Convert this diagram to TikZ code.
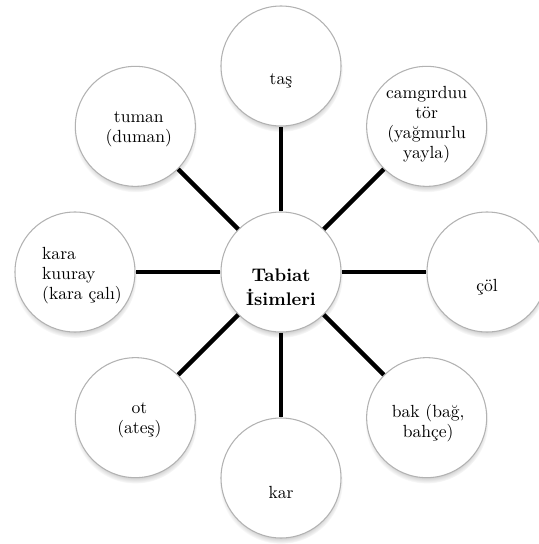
\documentclass[tikz,border=0pt]{standalone}
\usepackage{fontspec}
\usepackage{tikz}
\usetikzlibrary{positioning, shadows, calc}

\begin{document}
\begin{tikzpicture}[
    bubble/.style={circle, draw=gray!60, line width=0.6pt, fill=white, minimum size=2.4cm, inner sep=0pt,
        circular drop shadow={shadow scale=1.03, shadow xshift=0pt, shadow yshift=-0.8mm, opacity=0.55}},
    bubbletext/.style={align=center, inner sep=0pt, font=\rmfamily\fontsize{10}{11.4}\selectfont},
    hubtext/.style={align=center, inner sep=0pt, font=\rmfamily\fontsize{10.4}{13.6}\selectfont\bfseries},
    spoke/.style={line width=2.6pt},
    ]
    \useasboundingbox (-5.62,-5.44) rectangle (5.16,5.44);

    % Hub in the middle
    \node[bubble] (hub) at (0,0) {};
    \node[hubtext, yshift=-3mm] (hub-txt) at (hub) {Tabiat\\İsimleri};

    % Outer circles, clockwise from the top
    \node[bubble] (tas) at (90:4.12) {};
    \node[bubbletext, yshift=-3mm] (tas-txt) at (tas) {taş};

    \node[bubble] (camgir) at (45:4.12) {};
    \node[bubbletext, yshift=0.4mm] (camgir-txt) at (camgir) {camgırduu\\tör\\(yağmurlu\\yayla)};

    \node[bubble] (col) at (0:4.12) {};
    \node[bubbletext, yshift=-3mm] (col-txt) at (col) {çöl};

    \node[bubble] (bak) at (-45:4.12) {};
    \node[bubbletext, yshift=-1mm, xshift=0.3mm] (bak-txt) at (bak) {bak (bağ,\\bahçe)};

    \node[bubble] (kar) at (-90:4.12) {};
    \node[bubbletext, yshift=-2.8mm] (kar-txt) at (kar) {kar};

    \node[bubble] (ot) at (-135:4.12) {};
    \node[bubbletext, yshift=-0.6mm, xshift=0.8mm] (ot-txt) at (ot) {ot\\(ateş)};

    \node[bubble] (kara) at (180:4.12) {};
    \node[bubbletext, align=left, yshift=-0.8mm, xshift=1.4mm] (kara-txt) at (kara) {kara\\kuuray\\(kara çalı)};

    \node[bubble] (tuman) at (135:4.12) {};
    \node[bubbletext, yshift=-0.6mm, xshift=0.7mm] (tuman-txt) at (tuman) {tuman\\(duman)};

    % Spokes from the hub
    \draw[spoke] (hub) -- (tas);
    \draw[spoke] (hub) -- (camgir);
    \draw[spoke] (hub) -- (col);
    \draw[spoke] (hub) -- (bak);
    \draw[spoke] (hub) -- (kar);
    \draw[spoke] (hub) -- (ot);
    \draw[spoke] (hub) -- (kara);
    \draw[spoke] (hub) -- (tuman);
\end{tikzpicture}
\end{document}
